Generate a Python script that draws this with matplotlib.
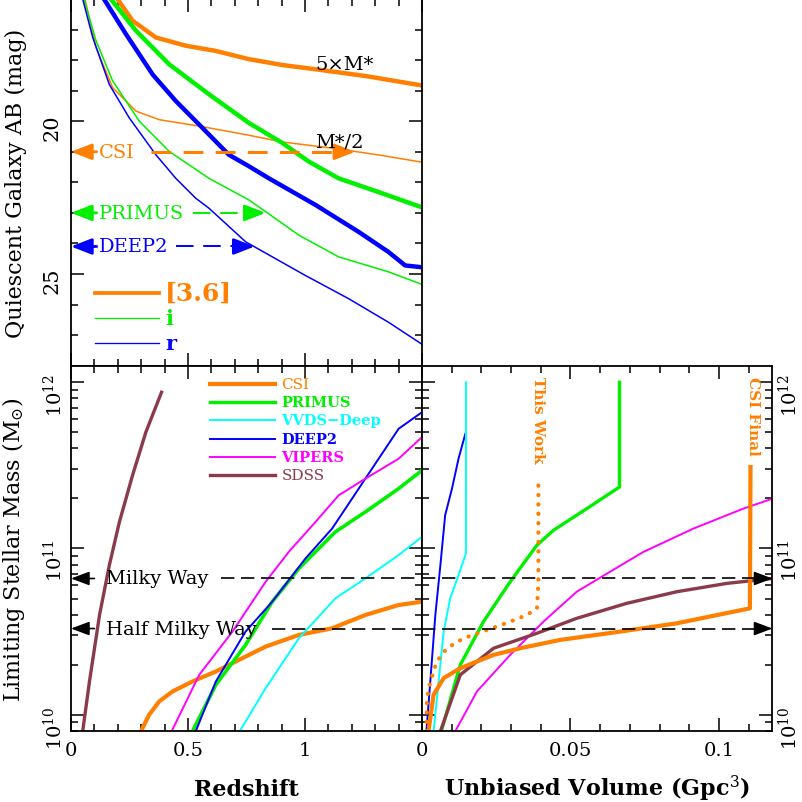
import numpy as np
import matplotlib.pyplot as plt
from matplotlib.ticker import FixedLocator, MultipleLocator, NullFormatter

plt.rcParams['font.family'] = ['DejaVu Serif']
plt.rcParams['mathtext.fontset'] = 'dejavuserif'

ORANGE = '#ff7f00'
GREEN = '#00f000'
BLUE = '#0000ff'
CYAN = '#00ffff'
MAGENTA = '#ff00ff'
BROWN = '#8b3a4a'

# --- top panel: quiescent galaxy magnitude vs redshift ---
z_36_thick = [0.193, 0.263, 0.363, 0.491, 0.619, 0.761, 0.903, 1.045, 1.258, 1.5]
m_36_thick = [15.94, 16.71, 17.26, 17.53, 17.70, 17.97, 18.16, 18.30, 18.52, 18.83]
z_36_thin = [0.058, 0.107, 0.178, 0.278, 0.377, 0.548, 0.761, 0.903, 1.116, 1.329, 1.5]
m_36_thin = [15.94, 17.59, 18.90, 19.67, 19.95, 20.16, 20.46, 20.68, 20.88, 21.12, 21.34]
z_i_thick = [0.164, 0.278, 0.42, 0.59, 0.761, 0.903, 1.016, 1.144, 1.33, 1.5]
m_i_thick = [15.94, 17.04, 18.14, 19.12, 20.06, 20.71, 21.32, 21.87, 22.36, 22.82]
z_r_thick = [0.136, 0.235, 0.349, 0.448, 0.562, 0.675, 0.755, 0.846, 1.045, 1.229, 1.357, 1.428, 1.5]
m_r_thick = [15.94, 17.15, 18.47, 19.34, 20.22, 21.10, 21.45, 21.87, 22.74, 23.62, 24.28, 24.72, 24.78]
z_i_thin = [0.053, 0.107, 0.178, 0.292, 0.42, 0.59, 0.761, 0.832, 0.974, 1.144, 1.357, 1.5]
m_i_thin = [15.94, 17.37, 18.68, 20.0, 20.99, 21.87, 22.58, 22.96, 23.73, 24.44, 24.93, 25.34]
z_r_thin = [0.048, 0.093, 0.164, 0.249, 0.363, 0.448, 0.533, 0.59, 0.747, 1.002, 1.187, 1.357, 1.5]
m_r_thin = [15.94, 17.26, 18.8, 19.89, 21.1, 21.87, 22.52, 22.85, 23.95, 25.05, 25.81, 26.58, 27.3]

# survey depth arrows: name, magnitude, dash start, arrow tip
survey_names = ['CSI', 'PRIMUS', 'DEEP2']
survey_mag = [21.0, 23.0, 24.1]
survey_dash_start = [0.34, 0.52, 0.45]
survey_tip = [1.215, 0.832, 0.785]
survey_cols = [ORANGE, GREEN, BLUE]

# --- bottom left: limiting stellar mass vs redshift ---
z_csi = [0.299, 0.334, 0.377, 0.434, 0.519, 0.619, 0.718, 0.832, 0.974, 1.116, 1.258, 1.4, 1.5]
lm_csi = [9.9, 10.0, 10.08, 10.14, 10.2, 10.26, 10.33, 10.41, 10.48, 10.52, 10.6, 10.66, 10.68]
z_primus = [0.519, 0.619, 0.746, 0.86, 0.974, 1.13, 1.258, 1.4, 1.5]
lm_primus = [9.9, 10.18, 10.42, 10.68, 10.88, 11.1, 11.22, 11.36, 11.47]
z_vvds = [0.721, 0.832, 0.974, 1.13, 1.258, 1.4, 1.5]
lm_vvds = [9.9, 10.16, 10.46, 10.7, 10.82, 10.96, 11.07]
z_deep2 = [0.533, 0.619, 0.746, 0.86, 1.002, 1.116, 1.258, 1.4, 1.5]
lm_deep2 = [9.9, 10.2, 10.5, 10.68, 10.94, 11.12, 11.42, 11.72, 11.82]
z_vipers = [0.43, 0.548, 0.69, 0.832, 0.931, 1.045, 1.144, 1.258, 1.4, 1.5]
lm_vipers = [9.9, 10.24, 10.5, 10.8, 10.98, 11.16, 11.32, 11.42, 11.54, 11.67]
z_sdss = [0.05, 0.079, 0.122, 0.164, 0.207, 0.263, 0.32, 0.387]
lm_sdss = [9.9, 10.2, 10.6, 10.9, 11.16, 11.44, 11.7, 11.94]

milky_way = 6.6e10
half_milky_way = 3.3e10

# --- bottom right: limiting stellar mass vs unbiased volume (Gpc^3) ---
v_deep2 = [0.0015, 0.0028, 0.0045, 0.0062, 0.0078, 0.0101, 0.0123, 0.0146]
vm_deep2 = [9.9, 10.2, 10.6, 10.9, 11.2, 11.36, 11.54, 11.69]
v_vvds = [0.0039, 0.0056, 0.0073, 0.0095, 0.0123, 0.0148, 0.0148]
vm_vvds = [9.9, 10.2, 10.5, 10.7, 10.84, 10.97, 12.0]
v_primus = [0.0065, 0.0129, 0.0207, 0.0297, 0.0387, 0.0443, 0.0555, 0.0665, 0.0665]
vm_primus = [9.9, 10.3, 10.56, 10.8, 11.02, 11.11, 11.24, 11.37, 12.0]
v_vipers = [0.0112, 0.0185, 0.0297, 0.0409, 0.0521, 0.0633, 0.0746, 0.0914, 0.1082, 0.118]
vm_vipers = [9.9, 10.14, 10.36, 10.56, 10.74, 10.86, 10.98, 11.12, 11.24, 11.3]
v_sdss = [0.0062, 0.0129, 0.0241, 0.0387, 0.0521, 0.0689, 0.0858, 0.1026, 0.118]
vm_sdss = [9.9, 10.24, 10.4, 10.49, 10.58, 10.67, 10.74, 10.79, 10.82]
v_csi = [0.0022, 0.0039, 0.0073, 0.0129, 0.0241, 0.0331, 0.0465, 0.0667, 0.0858, 0.1104, 0.1106]
vm_csi = [9.9, 10.12, 10.22, 10.28, 10.36, 10.4, 10.45, 10.5, 10.55, 10.64, 11.49]
v_thiswork = [0.0015, 0.0017, 0.0028, 0.0050, 0.0084, 0.014, 0.0219, 0.0297, 0.0353, 0.0387, 0.0392, 0.0392]
vm_thiswork = [9.9, 10.1, 10.2, 10.32, 10.4, 10.46, 10.51, 10.56, 10.6, 10.64, 10.8, 11.43]

fig = plt.figure(figsize=(8.03, 8.03), dpi=100)
L, M, R = 0.0884, 0.5255, 0.962
B, MID = 0.0884, 0.5434
ax1 = fig.add_axes([L, MID, M - L, 1.0 - MID])
ax2 = fig.add_axes([L, B, M - L, MID - B])
ax3 = fig.add_axes([M, B, R - M, MID - B])

for ax in (ax1, ax2, ax3):
    ax.tick_params(which='both', direction='in', top=True, right=True, width=1.1)
    ax.tick_params(which='major', length=9.5, labelsize=14, pad=7)
    ax.tick_params(which='minor', length=5)
    for s in ax.spines.values():
        s.set_linewidth(1.3)

def lw(thick):
    return 3.2 if thick else 1.1

# top panel
ax1.plot(z_36_thick, m_36_thick, color=ORANGE, lw=lw(True))
ax1.plot(z_36_thin, m_36_thin, color=ORANGE, lw=lw(False))
ax1.plot(z_i_thick, m_i_thick, color=GREEN, lw=lw(True))
ax1.plot(z_i_thin, m_i_thin, color=GREEN, lw=lw(False))
ax1.plot(z_r_thick, m_r_thick, color=BLUE, lw=lw(True))
ax1.plot(z_r_thin, m_r_thin, color=BLUE, lw=lw(False))
ax1.set_xlim(0, 1.5)
ax1.set_ylim(28, 16)
ax1.xaxis.set_major_locator(MultipleLocator(0.5))
ax1.xaxis.set_minor_locator(MultipleLocator(0.1))
ax1.xaxis.set_major_formatter(NullFormatter())
ax1.yaxis.set_major_locator(FixedLocator([20, 25]))
ax1.yaxis.set_minor_locator(MultipleLocator(1))
ax1.tick_params(axis='y', labelrotation=90, labelsize=15)
ax1.set_ylabel('Quiescent Galaxy AB (mag)', fontsize=16)
ax1.yaxis.set_label_coords(-0.125, 0.5)

arrow_kw = dict(arrowstyle='-|>,head_length=0.9,head_width=0.35', lw=2.0, shrinkA=0, shrinkB=0)
for name, mag, d0, tip, col in zip(survey_names, survey_mag, survey_dash_start, survey_tip, survey_cols):
    ax1.annotate('', xy=(0, mag), xytext=(0.11, mag),
                 arrowprops=dict(color=col, mutation_scale=14, **arrow_kw))
    ax1.text(0.12, mag, name, color=col, fontsize=14, va='center', ha='left')
    lwd = 2.2 if name == 'CSI' else 1.4
    dash = (0, (6.5, 4)) if name == 'CSI' else (0, (9, 5))
    ax1.plot([d0, tip - 0.05], [mag, mag], color=col, lw=lwd, linestyle=dash)
    ax1.annotate('', xy=(tip, mag), xytext=(tip - 0.06, mag),
                 arrowprops=dict(color=col, mutation_scale=14, **arrow_kw))

ax1.text(1.045, 18.14, '5×M*', fontsize=14, va='center', ha='left')
ax1.text(1.045, 20.68, 'M*/2', fontsize=14, va='center', ha='left')

for y, thick, col, lab, fs in [(0.198, True, ORANGE, '[3.6]', 18), (0.129, False, GREEN, 'i', 15),
                                (0.062, False, BLUE, 'r', 15)]:
    ax1.plot([0.067, 0.252], [y, y], color=col, lw=lw(thick) * 0.85, transform=ax1.transAxes)
    ax1.text(0.268, y, lab, color=col, fontsize=fs, fontweight='bold', va='center', ha='left',
             transform=ax1.transAxes)

# bottom left
def lin(v):
    return 10 ** np.asarray(v)

ax2.plot(z_csi, lin(lm_csi), color=ORANGE, lw=3.0)
ax2.plot(z_primus, lin(lm_primus), color=GREEN, lw=2.6)
ax2.plot(z_vvds, lin(lm_vvds), color=CYAN, lw=1.4)
ax2.plot(z_deep2, lin(lm_deep2), color=BLUE, lw=1.4)
ax2.plot(z_vipers, lin(lm_vipers), color=MAGENTA, lw=1.4)
ax2.plot(z_sdss, lin(lm_sdss), color=BROWN, lw=2.4)
ax2.set_yscale('log')
ax2.set_xlim(0, 1.5)
ax2.set_ylim(10 ** 9.902, 10 ** 12.1)
ax2.xaxis.set_major_locator(FixedLocator([0, 0.5, 1.0, 1.5]))
ax2.xaxis.set_minor_locator(MultipleLocator(0.1))
ax2.set_xticklabels(['0', '0.5', '1', ''])
ax2.yaxis.set_major_locator(FixedLocator([1e10, 1e11, 1e12]))
ax2.set_yticklabels([r'$10^{10}$', r'$10^{11}$', r'$10^{12}$'])
ax2.tick_params(axis='y', labelrotation=90, pad=4)
ax2.set_xlabel('Redshift', fontsize=16, fontweight='bold', labelpad=14)
ax2.set_ylabel(r'Limiting Stellar Mass (M$_{\odot}$)', fontsize=16)
ax2.yaxis.set_label_coords(-0.125, 0.5)

legend_items = [('CSI', ORANGE, 3.0, 'normal'), ('PRIMUS', GREEN, 2.4, 'bold'),
                ('VVDS\u2212Deep', CYAN, 1.4, 'bold'), ('DEEP2', BLUE, 1.4, 'bold'),
                ('VIPERS', MAGENTA, 1.4, 'bold'), ('SDSS', BROWN, 2.4, 'normal')]
for k, (lab, col, w, fw) in enumerate(legend_items):
    y = 0.950 - 0.050 * k
    ax2.plot([0.397, 0.58], [y, y], color=col, lw=w, transform=ax2.transAxes)
    ax2.text(0.60, y, lab, color=col, fontsize=11 if fw == 'normal' else 10.5, fontweight=fw,
             va='center', ha='left', transform=ax2.transAxes)

black_arrow = dict(arrowstyle='-|>,head_length=0.8,head_width=0.3', color='black', lw=1.2,
                   mutation_scale=14, shrinkA=0, shrinkB=0)
for val, lab, d0 in [(milky_way, 'Milky Way', 0.64), (half_milky_way, 'Half Milky Way', 0.86)]:
    ax2.annotate('', xy=(0, val), xytext=(0.1, val), arrowprops=black_arrow)
    ax2.text(0.15, val, lab, fontsize=14, va='center', ha='left')
    ax2.plot([d0, 1.5], [val, val], color='black', lw=1.2, linestyle=(0, (8, 4)))

# bottom right
ax3.plot(v_deep2, lin(vm_deep2), color=BLUE, lw=1.4)
ax3.plot(v_vvds, lin(vm_vvds), color=CYAN, lw=1.4)
ax3.plot(v_primus, lin(vm_primus), color=GREEN, lw=2.4)
ax3.plot(v_vipers, lin(vm_vipers), color=MAGENTA, lw=1.4)
ax3.plot(v_sdss, lin(vm_sdss), color=BROWN, lw=2.4)
ax3.plot(v_csi, lin(vm_csi), color=ORANGE, lw=3.0)
ax3.plot(v_thiswork, lin(vm_thiswork), color=ORANGE, lw=3.0, linestyle=(0, (0.05, 2.2)),
         dash_capstyle='round')
ax3.set_yscale('log')
ax3.set_xlim(0, 0.118)
ax3.set_ylim(10 ** 9.902, 10 ** 12.1)
ax3.xaxis.set_major_locator(FixedLocator([0, 0.05, 0.1]))
ax3.xaxis.set_minor_locator(MultipleLocator(0.01))
ax3.set_xticklabels(['0', '0.05', '0.1'])
ax3.yaxis.tick_right()
ax3.tick_params(which='both', left=True)
ax3.yaxis.set_major_locator(FixedLocator([1e10, 1e11, 1e12]))
ax3.set_yticklabels([r'$10^{10}$', r'$10^{11}$', r'$10^{12}$'])
ax3.tick_params(axis='y', labelrotation=90, pad=4)
ax3.set_xlabel(r'Unbiased Volume (Gpc$^{3}$)', fontsize=16, fontweight='bold', labelpad=10)

for val in (milky_way, half_milky_way):
    ax3.plot([0, 0.113], [val, val], color='black', lw=1.2, linestyle=(0, (8, 4)))
    ax3.annotate('', xy=(0.118, val), xytext=(0.112, val), arrowprops=black_arrow)

ax3.text(0.0392, 10 ** 12.04, 'This Work', color=ORANGE, fontsize=11, fontweight='bold',
         rotation=-90, va='top', ha='center')
ax3.text(0.1115, 10 ** 12.04, 'CSI Final', color=ORANGE, fontsize=11, fontweight='bold',
         rotation=-90, va='top', ha='center')

fig.savefig('out.png', dpi=100)
